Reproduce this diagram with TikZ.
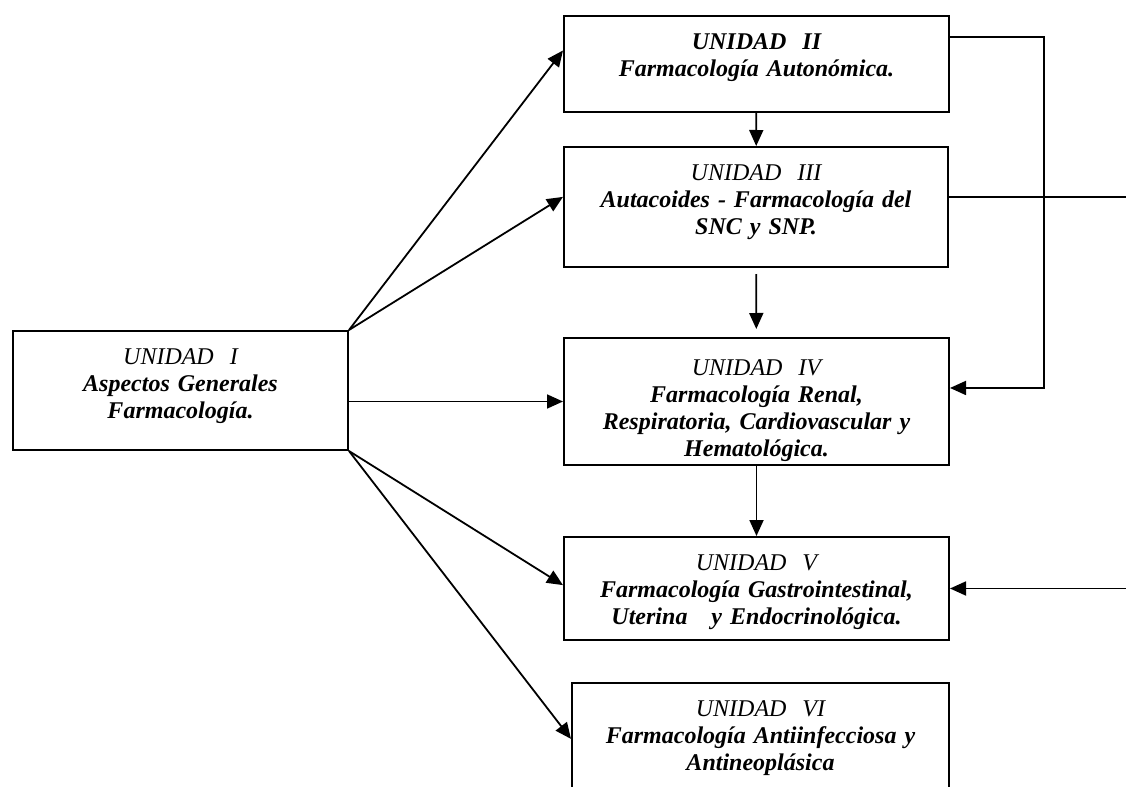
\documentclass[tikz,border=0pt]{standalone}
\usepackage{fontspec}
\setmainfont{Liberation Serif}
\usetikzlibrary{arrows.meta}

\begin{document}
\begin{tikzpicture}[
      x=0.5pt, y=-0.5pt,
      unit/.style={draw=black, line width=1pt, anchor=north, inner sep=0pt,
        align=center, text height=16.5pt,
        font=\fontsize{12}{13.6}\selectfont\itshape},
      link/.style={line width=0.9pt, -{Triangle[length=8pt,width=7pt]}},
      rule/.style={line width=0.9pt}
    ]
    \useasboundingbox (0,0) rectangle (1126,787);

    % Units of the course
    \node[unit, text width=167.5pt, text depth=43pt] (u1) at (180.5,330)
      {UNIDAD~~I\\{\bfseries Aspectos Generales\\Farmacología.}};
    \node[unit, text width=192.5pt, text depth=31.5pt] (u2) at (756.5,15)
      {{\bfseries UNIDAD~~II\\Farmacología Autonómica.}};
    \node[unit, text width=192pt, text depth=43.5pt] (u3) at (756,146)
      {UNIDAD~~III\\{\bfseries Autacoides - Farmacología del\\SNC y SNP.}};
    \node[unit, text width=192.5pt, text depth=45pt, text height=18.5pt] (u4) at (756.5,337)
      {UNIDAD~~IV\\{\bfseries Farmacología Renal,\\Respiratoria, Cardiovascular y\\Hematológica.}};
    \node[unit, text width=192.5pt, text depth=35pt] (u5) at (756.5,536)
      {UNIDAD~~V\\{\bfseries Farmacología Gastrointestinal,\\Uterina~~~y Endocrinológica.}};
    \node[unit, text width=188.5pt, text depth=46pt] (u6) at (760.5,682)
      {UNIDAD~~VI\\{\bfseries Farmacología Antiinfecciosa y\\Antineoplásica}};

    % Page edge and bend of the return line
    \coordinate (rim) at (1126,0);
    \coordinate (fb) at (1044,200);

    % From unit I to the others
    \draw[link] (u1.north east) -- (u2.176);
    \draw[link] (u1.north east) -- (u3.177);
    \draw[link] (u1.east |- u4.west) -- (u4.west);
    \draw[link] (u1.south east) -- (u5.179);
    \draw[link] (u1.south east) -- (u6.178);

    % Down the column
    \foreach \a/\b in {u2/u3, u4/u5}
      \draw[link] (\a) -- (\b);
    \draw[link, shorten <=3pt, shorten >=4pt] (u3) -- (u4);

    % Lines on the right
    \draw[link] (u2.8) -| (fb) |- (u4.4);
    \draw[rule] (u3.3) -- (u3.3 -| rim);
    \draw[link] (u5.east -| rim) -- (u5.east);
  \end{tikzpicture}
\end{document}
